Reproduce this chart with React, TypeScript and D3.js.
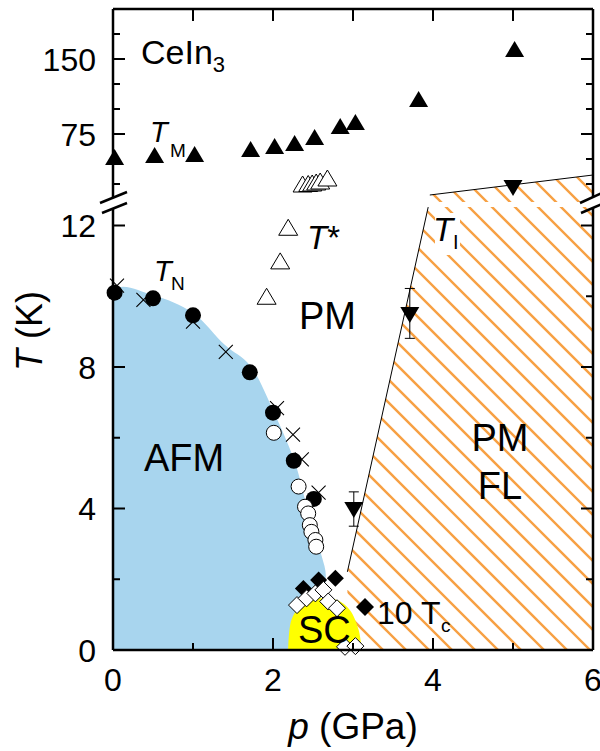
import React from "react";
import * as d3 from "d3";

// ---------- data ----------
const tmP = [0.02, 0.52, 1.02, 1.72, 2.02, 2.27, 2.52, 2.84, 3.03, 3.82, 5.02];
const tmT = [52, 54, 55, 60, 63, 66, 72, 83, 87, 110, 160];

const tStarHiP = [2.37, 2.44, 2.49, 2.54, 2.59, 2.68];
const tStarHiT = [25, 25.5, 26, 27, 28, 31];
const tStarP = [1.92, 2.09, 2.19];
const tStarT = [10.0, 11.0, 11.95];

const tnP = [0.02, 0.5, 1.0, 1.71, 2.0, 2.26, 2.51];
const tnT = [10.1, 9.94, 9.46, 7.85, 6.71, 5.35, 4.27];

const crossP = [0.05, 0.38, 1.0, 1.41, 2.05, 2.25, 2.36, 2.57];
const crossT = [10.3, 9.9, 9.28, 8.43, 6.84, 6.09, 5.39, 4.45];

const openCircP = [2.01, 2.32, 2.4, 2.44, 2.46, 2.48, 2.53, 2.54];
const openCircT = [6.14, 4.62, 4.05, 3.86, 3.53, 3.34, 3.11, 2.92];

const tcFilledP = [2.38, 2.57, 2.78];
const tcFilledT = [1.74, 1.98, 2.03];
const tcOpenP = [2.3, 2.42, 2.53, 2.63, 2.69, 2.8, 2.9, 3.03];
const tcOpenT = [1.27, 1.46, 1.6, 1.7, 1.37, 1.18, 0.09, 0.11];

const tiP = [3.01, 3.71];
const tiT = [3.96, 9.47];
const tiLo = [3.5, 8.81];
const tiHi = [4.47, 10.22];
const tiHiP = [5.0];
const tiHiT = [21];

const afmEdge: [number, number][] = [
  [0, 10.17], [0.5, 10.03], [1.0, 9.53], [1.4, 8.62], [1.71, 8.05], [2.0, 6.78],
  [2.25, 5.46], [2.34, 4.8], [2.4, 4.24], [2.5, 3.39], [2.61, 2.64], [2.66, 2.1],
];
const scDome: [number, number][] = [
  [2.19, 0], [2.23, 0.85], [2.34, 1.22], [2.59, 1.46], [2.8, 1.41], [2.96, 1.13], [3.07, 0.57], [3.11, 0],
];
const tiLine: [number, number][] = [[2.93, 2.21], [3.94, 12.52]];
const tiLineHi: [number, number][] = [[3.96, 14], [6, 34]];

const xTicks = [0, 1, 2, 3, 4, 5, 6];
const xLabels = [0, 2, 4, 6];
const yLoTicks = [0, 2, 4, 6, 8, 10, 12];
const yLoLabels = [0, 4, 8, 12];
const yHiTicks = [25, 50, 75, 100, 125, 150, 175];
const yHiLabels = [75, 150];

// ---------- layout ----------
const W = 600, H = 751;
const XL = 113, XR = 593, YB = 650, YT = 9;
const YLO_TOP = 207, YHI_BOT = 202;
const FONT = "'Liberation Sans', Arial, sans-serif";
const BLUE = "#a8d5ee";
const ORANGE = "#f7a043";

const x = d3.scaleLinear().domain([0, 6]).range([XL, XR]);
const yL = d3.scaleLinear().domain([0, 12]).range([650, 225.5]);
const yU = d3.scaleLinear().domain([0, 200]).range([209, 9]);

const triUp = (cx: number, cy: number, w = 9.5, h = 16) =>
  `M${cx},${cy - h / 2}L${cx + w},${cy + h / 2}L${cx - w},${cy + h / 2}Z`;
const triDown = (cx: number, cy: number, w = 9.5, h = 16) =>
  `M${cx - w},${cy - h / 2}L${cx + w},${cy - h / 2}L${cx},${cy + h / 2}Z`;
const diamond = (cx: number, cy: number, r = 8.5) =>
  `M${cx},${cy - r}L${cx + r},${cy}L${cx},${cy + r}L${cx - r},${cy}Z`;

export default function App() {
  const lineL = d3.line<[number, number]>().x((d) => x(d[0])).y((d) => yL(d[1]));
  const afmPoly: [number, number][] = [
    [0, 0],
    ...afmEdge,
    [2.6, 1.5],
    [2.3, 0.8],
    [2.19, 0],
  ];
  const afmPath = d3
    .line<[number, number]>()
    .x((d) => x(d[0]))
    .y((d) => yL(d[1]))
    .curve(d3.curveCatmullRom)(afmPoly) + "Z";
  const scPath = d3
    .line<[number, number]>()
    .x((d) => x(d[0]))
    .y((d) => yL(d[1]))
    .curve(d3.curveCatmullRom)(scDome) + "Z";

  const hatchLo = `M${x(2.93)},${YB}L${x(2.93)},${yL(2.21)}L${x(3.94)},${YLO_TOP}L${XR},${YLO_TOP}L${XR},${YB}Z`;
  const hatchHi = `M${x(3.96)},${yU(14)}L${x(6)},${yU(34)}L${x(6)},${YHI_BOT}L${x(3.96)},${YHI_BOT}Z`;

  const hatchLines: string[] = [];
  const sp = 23;
  const c0 = 360 - 650;
  for (let k = -40; k <= 40; k++) {
    const c = c0 + k * sp;
    hatchLines.push(`M${0 + c},0L${H + c},${H}`);
  }

  return (
    <svg width={W} height={H} style={{ position: "absolute", left: 0, top: 0, background: "#fff" }} fontFamily={FONT}>
      <defs>
        <clipPath id="hLo"><path d={hatchLo} /></clipPath>
        <clipPath id="hHi"><path d={hatchHi} /></clipPath>
        <clipPath id="lowPanel"><rect x={XL} y={YLO_TOP} width={XR - XL} height={YB - YLO_TOP} /></clipPath>
        <clipPath id="hiPanel"><rect x={XL - 10} y={YT} width={XR - XL + 20} height={YHI_BOT - YT} /></clipPath>
      </defs>
      <rect x={0} y={0} width={W} height={H} fill="#fff" />

      {/* regions */}
      <g clipPath="url(#lowPanel)">
        <path d={afmPath} fill={BLUE} />
        <g clipPath="url(#hLo)">
          {hatchLines.map((d, i) => (
            <path key={i} d={d} stroke={ORANGE} strokeWidth={2.4} fill="none" />
          ))}
        </g>
        <path d={scPath} fill="#ffff00" />
        <path d={lineL(tiLine) || ""} stroke="#000" strokeWidth={1} fill="none" />
      </g>
      <g clipPath="url(#hHi)">
        {hatchLines.map((d, i) => (
          <path key={i} d={d} stroke={ORANGE} strokeWidth={2.4} fill="none" />
        ))}
      </g>
      <line x1={x(tiLineHi[0][0])} y1={yU(tiLineHi[0][1])} x2={x(tiLineHi[1][0])} y2={yU(tiLineHi[1][1])} stroke="#000" strokeWidth={1} />

      {/* T_I label box */}
      <rect x={435} y={213} width={25} height={42} fill="#fff" />
      <text x={433} y={241} fontSize={33} fontStyle="italic">T</text>
      <text x={453} y={249} fontSize={20}>I</text>

      {/* upper panel markers */}
      <g clipPath="url(#hiPanel)">
        {tmP.map((p, i) => (
          <path key={i} d={triUp(x(p), yU(tmT[i]))} fill="#000" />
        ))}
        {tStarHiP.map((p, i) => (
          <path key={i} d={triUp(x(p), yU(tStarHiT[i]))} fill="#fff" stroke="#000" strokeWidth={1} />
        ))}
        {tiHiP.map((p, i) => (
          <path key={i} d={triDown(x(p), yU(tiHiT[i]))} fill="#000" />
        ))}
      </g>

      {/* lower panel markers */}
      <g>
        {tStarP.map((p, i) => (
          <path key={i} d={triUp(x(p), yL(tStarT[i]))} fill="#fff" stroke="#000" strokeWidth={1} />
        ))}
        {crossP.map((p, i) => {
          const cx = x(p), cy = yL(crossT[i]), r = 7;
          return (
            <path key={i} d={`M${cx - r},${cy - r}L${cx + r},${cy + r}M${cx - r},${cy + r}L${cx + r},${cy - r}`} stroke="#000" strokeWidth={1.1} />
          );
        })}
        {tnP.map((p, i) => (
          <circle key={i} cx={x(p)} cy={yL(tnT[i])} r={8} fill="#000" />
        ))}
        {openCircP.map((p, i) => (
          <circle key={i} cx={x(p)} cy={yL(openCircT[i])} r={7.5} fill="#fff" stroke="#000" strokeWidth={1} />
        ))}
        {tcFilledP.map((p, i) => (
          <path key={i} d={diamond(x(p), yL(tcFilledT[i]))} fill="#000" />
        ))}
        {tcOpenP.map((p, i) => (
          <path key={i} d={diamond(x(p), yL(tcOpenT[i]))} fill="#fff" stroke="#000" strokeWidth={1} />
        ))}
        {tiP.map((p, i) => {
          const cx = x(p);
          return (
            <g key={i}>
              <line x1={cx} x2={cx} y1={yL(tiLo[i])} y2={yL(tiHi[i])} stroke="#000" strokeWidth={1} />
              <line x1={cx - 5} x2={cx + 5} y1={yL(tiLo[i])} y2={yL(tiLo[i])} stroke="#000" strokeWidth={1} />
              <line x1={cx - 5} x2={cx + 5} y1={yL(tiHi[i])} y2={yL(tiHi[i])} stroke="#000" strokeWidth={1} />
              <path d={triDown(cx, yL(tiT[i]))} fill="#000" />
            </g>
          );
        })}
        <path d={diamond(365, 607, 9)} fill="#000" />
      </g>

      {/* labels */}
      <text x={141} y={64} fontSize={34}>CeIn<tspan fontSize={22} dy={8}>3</tspan></text>
      <text x={150} y={142} fontSize={29} fontStyle="italic">T</text>
      <text x={170} y={157} fontSize={19}>M</text>
      <text x={154} y={281} fontSize={29} fontStyle="italic">T</text>
      <text x={171} y={290} fontSize={19}>N</text>
      <text x={307} y={249} fontSize={33} fontStyle="italic">T<tspan fontStyle="normal">*</tspan></text>
      <text x={299} y={329} fontSize={38}>PM</text>
      <text x={144} y={471} fontSize={38}>AFM</text>
      <text x={500} y={451} fontSize={38} textAnchor="middle">PM</text>
      <text x={500} y={499} fontSize={38} textAnchor="middle">FL</text>
      <text x={298} y={643} fontSize={38}>SC</text>
      <text x={377} y={624} fontSize={32}>10 T</text>
      <text x={441} y={632} fontSize={19}>c</text>

      {/* axes frame */}
      <g stroke="#000" strokeWidth={2.5} fill="none">
        <line x1={XL} x2={XR} y1={YT} y2={YT} />
        <line x1={XL} x2={XR} y1={YB} y2={YB} />
        <line x1={XL} x2={XL} y1={YT} y2={197} />
        <line x1={XL} x2={XL} y1={208} y2={YB} />
        <line x1={XR} x2={XR} y1={YT} y2={197} />
        <line x1={XR} x2={XR} y1={208} y2={YB} />
        <line x1={100} y1={203} x2={127} y2={192} />
        <line x1={102} y1={213} x2={127} y2={203} />
        <line x1={580} y1={203} x2={602} y2={193} />
        <line x1={581} y1={213} x2={602} y2={204} />
      </g>

      {/* ticks */}
      <g stroke="#000" strokeWidth={2}>
        {xTicks.slice(1, -1).map((t) => {
          const len = xLabels.includes(t) ? 12 : 7;
          return (
            <g key={t}>
              <line x1={x(t)} x2={x(t)} y1={YB} y2={YB - len} />
              <line x1={x(t)} x2={x(t)} y1={YT} y2={YT + 12} />
            </g>
          );
        })}
        {yLoTicks.slice(1).map((t) => {
          const len = yLoLabels.includes(t) ? 12 : 7;
          return (
            <g key={t}>
              <line x1={XL} x2={XL + len} y1={yL(t)} y2={yL(t)} />
              <line x1={XR} x2={XR - len} y1={yL(t)} y2={yL(t)} />
            </g>
          );
        })}
        {yHiTicks.map((t) => {
          const len = yHiLabels.includes(t) ? 12 : 7;
          return (
            <g key={t}>
              <line x1={XL} x2={XL + len} y1={yU(t)} y2={yU(t)} />
              <line x1={XR} x2={XR - len} y1={yU(t)} y2={yU(t)} />
            </g>
          );
        })}
      </g>

      {/* tick labels */}
      <g fontSize={32}>
        {xLabels.map((t) => (
          <text key={t} x={x(t)} y={691} textAnchor="middle">{t}</text>
        ))}
        {yLoLabels.map((t) => (
          <text key={t} x={96} y={yL(t) + 11.5} textAnchor="end">{t}</text>
        ))}
        {yHiLabels.map((t) => (
          <text key={t} x={96} y={yU(t) + 11.5} textAnchor="end">{t}</text>
        ))}
      </g>

      {/* axis titles */}
      <text x={353} y={739} fontSize={37} textAnchor="middle">
        <tspan fontStyle="italic">p</tspan> (GPa)
      </text>
      <text transform="translate(42,331) rotate(-90)" fontSize={36} textAnchor="middle">
        <tspan fontStyle="italic">T</tspan> (K)
      </text>
    </svg>
  );
}
